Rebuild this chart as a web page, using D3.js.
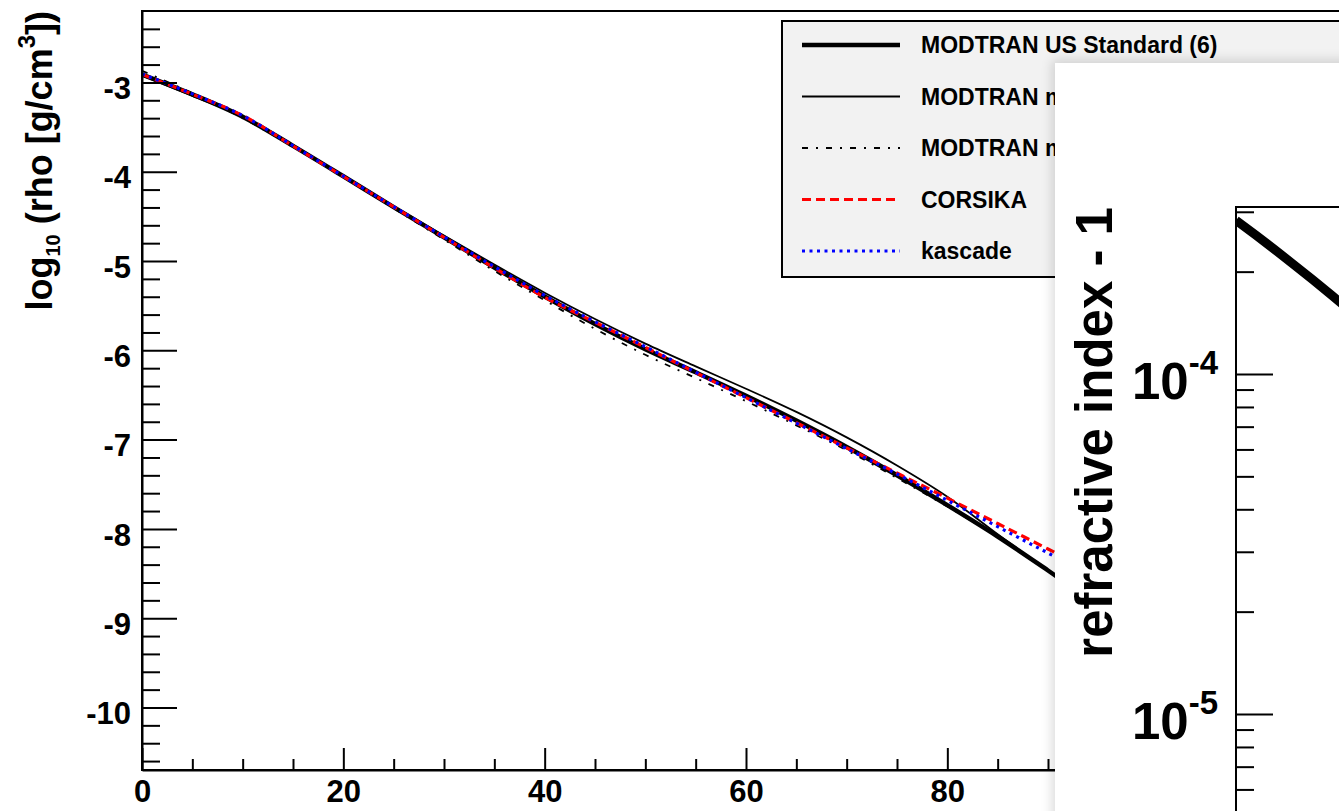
<!DOCTYPE html>
<html>
<head>
<meta charset="utf-8">
<script src="https://cdn.jsdelivr.net/npm/d3@7"></script>
<style>
  html, body { margin: 0; padding: 0; background: #fff; }
  svg { display: block; }
  text { font-family: "Liberation Sans", Arial, Helvetica, sans-serif; font-weight: bold; fill: #000; }
</style>
</head>
<body>
<svg id="chart" width="1339" height="811"></svg>
<script>
// ---- density profiles: log10(rho [g/cm^3]) versus altitude [km] ----
const altitudeKm = [0, 5, 10, 15, 20, 25, 30, 35, 40, 45, 50, 55, 60, 65, 70, 75, 80, 85, 90, 95, 100];

const modtranUsStandard = [-2.912, -3.133, -3.384, -3.710, -4.051, -4.397, -4.735, -5.072, -5.398, -5.706,
  -5.988, -6.246, -6.509, -6.787, -7.082, -7.399, -7.734, -8.085, -8.466, -8.856, -9.252];
const modtranMidLatSummer = [-2.924, -3.150, -3.383, -3.700, -4.046, -4.386, -4.715, -5.040, -5.355, -5.650,
  -5.925, -6.180, -6.430, -6.690, -6.975, -7.290, -7.640, -8.060, -8.470, -8.870, -9.270];
const modtranMidLatWinter = [-2.870, -3.120, -3.400, -3.720, -4.060, -4.410, -4.760, -5.110, -5.440, -5.760,
  -6.050, -6.310, -6.570, -6.840, -7.120, -7.430, -7.750, -8.090, -8.470, -8.860, -9.250];
const corsika = [-2.910, -3.132, -3.371, -3.712, -4.053, -4.394, -4.736, -5.077, -5.406, -5.686,
  -5.967, -6.249, -6.530, -6.811, -7.092, -7.374, -7.655, -7.940, -8.225, -8.510, -8.795];
const kascade = [-2.905, -3.128, -3.372, -3.708, -4.050, -4.392, -4.730, -5.062, -5.385, -5.680,
  -5.960, -6.245, -6.530, -6.815, -7.100, -7.385, -7.680, -7.975, -8.270, -8.565, -8.860];

const seriesLabels = ["MODTRAN US Standard (6)", "MODTRAN mid-latitude summer (2)",
  "MODTRAN mid-latitude winter (3)", "CORSIKA", "kascade"];
const seriesValues = [modtranUsStandard, modtranMidLatSummer, modtranMidLatWinter, corsika, kascade];

const xMajorTicks = [0, 20, 40, 60, 80, 100];
const yMajorTicks = [-10, -9, -8, -7, -6, -5, -4, -3];

// ---- refractive index profile (n - 1) near ground ----
const riAltitudeKm = [0, 1, 2, 3, 4, 5, 6, 7, 8];
const riValues = [2.83e-4, 2.569e-4, 2.326e-4, 2.100e-4, 1.893e-4, 1.701e-4, 1.525e-4, 1.365e-4, 1.220e-4];
const riMajorTicks = [1e-5, 1e-4];
const riMinorTicks = [6e-6, 7e-6, 8e-6, 9e-6, 2e-5, 3e-5, 4e-5, 5e-5, 6e-5, 7e-5, 8e-5, 9e-5, 2e-4, 3e-4];

// ---- drawing ----
const svg = d3.select("#chart");
const W = 1339, H = 811;

const styles = [
  { color: "#000", width: 4.5, dash: null },
  { color: "#000", width: 1.8, dash: null },
  { color: "#000", width: 1.8, dash: "6,8,2,8" },
  { color: "#ff0000", width: 3.2, dash: "9,5" },
  { color: "#0000ff", width: 3.2, dash: "3,4.5" }
];

const frame = { left: 142, top: 11, right: 1350, bottom: 770 };
const x = d3.scaleLinear().domain([0, 120]).range([frame.left, frame.right]);
const y = d3.scaleLinear().domain([-10.7, -2.2]).range([frame.bottom, frame.top]);

const defs = svg.append("defs");
defs.append("clipPath").attr("id", "plotClip").append("rect")
  .attr("x", frame.left).attr("y", frame.top)
  .attr("width", frame.right - frame.left).attr("height", frame.bottom - frame.top);

// curves
const line = d3.line().x((d, i) => x(altitudeKm[i])).y(d => y(d)).curve(d3.curveMonotoneX);
const curves = svg.append("g").attr("clip-path", "url(#plotClip)");
[2, 1, 0, 3, 4].forEach(k => {
  curves.append("path")
    .datum(seriesValues[k])
    .attr("d", line)
    .attr("fill", "none")
    .attr("stroke", styles[k].color)
    .attr("stroke-width", styles[k].width)
    .attr("stroke-dasharray", styles[k].dash)
    .attr("stroke-linejoin", "round");
});

// frame
svg.append("rect")
  .attr("x", frame.left).attr("y", frame.top)
  .attr("width", frame.right - frame.left).attr("height", frame.bottom - frame.top)
  .attr("fill", "none").attr("stroke", "#000").attr("stroke-width", 2);

// y axis (ticks point into the frame)
const yMinor = d3.range(-10.6, -2.2, 0.2).map(v => +v.toFixed(1)).filter(v => !yMajorTicks.includes(v));
const yAxisG = svg.append("g").attr("transform", `translate(${frame.left},0)`);
yAxisG.call(d3.axisLeft(y).tickValues(yMinor).tickSize(-18).tickSizeOuter(0).tickFormat(""));
yAxisG.call(g => g.selectAll(".domain").remove());
const yAxisMajor = svg.append("g").attr("transform", `translate(${frame.left},0)`)
  .call(d3.axisLeft(y).tickValues(yMajorTicks).tickSize(-35).tickSizeOuter(0).tickPadding(11)
    .tickFormat(d => String(d)));
yAxisMajor.select(".domain").attr("stroke-width", 2);
yAxisMajor.selectAll("text").attr("font-size", 31).attr("dy", "0.52em")
  .attr("font-family", null).style("font-weight", "bold");

// x axis
const xMinor = d3.range(5, 120, 5).filter(v => !xMajorTicks.includes(v));
const xAxisMinor = svg.append("g").attr("transform", `translate(0,${frame.bottom})`)
  .call(d3.axisBottom(x).tickValues(xMinor).tickSize(-11).tickSizeOuter(0).tickFormat(""));
xAxisMinor.select(".domain").remove();
const xAxisMajor = svg.append("g").attr("transform", `translate(0,${frame.bottom})`)
  .call(d3.axisBottom(x).tickValues(xMajorTicks).tickSize(-22).tickSizeOuter(0).tickPadding(10)
    .tickFormat(d => String(d)));
xAxisMajor.select(".domain").attr("stroke-width", 2);
xAxisMajor.selectAll("text").attr("font-size", 31).attr("font-family", null).style("font-weight", "bold");
svg.selectAll(".tick line").attr("stroke-width", 2).attr("stroke", "#000");
svg.selectAll(".domain").attr("stroke", "#000");

// y title: log10 (rho [g/cm^3])
const yTitle = svg.append("text")
  .attr("transform", `translate(52,${frame.top}) rotate(-90)`)
  .attr("text-anchor", "end")
  .attr("font-size", 36);
yTitle.append("tspan").text("log");
yTitle.append("tspan").attr("font-size", 20).attr("dy", 8).text("10");
yTitle.append("tspan").attr("dy", -8).text(" (rho [g/cm");
yTitle.append("tspan").attr("font-size", 24).attr("dy", -17).text("3");
yTitle.append("tspan").attr("dy", 17).text("])");

// legend
const legend = svg.append("g");
legend.append("rect")
  .attr("x", 782).attr("y", 21).attr("width", 600).attr("height", 256)
  .attr("fill", "#f2f2f2").attr("stroke", "#000").attr("stroke-width", 2);
const rowY = d3.scalePoint().domain(d3.range(seriesLabels.length)).range([45, 251]);
seriesLabels.forEach((lab, k) => {
  const yy = rowY(k);
  legend.append("line")
    .attr("x1", 802).attr("x2", 900).attr("y1", yy).attr("y2", yy)
    .attr("stroke", styles[k].color).attr("stroke-width", styles[k].width)
    .attr("stroke-dasharray", styles[k].dash);
  legend.append("text").attr("x", 921).attr("y", yy + 8).attr("font-size", 23).text(lab);
});

// ---- refractive index canvas on top ----
const filt = defs.append("filter").attr("id", "soft").attr("x", "-20%").attr("y", "-20%")
  .attr("width", "140%").attr("height", "140%");
filt.append("feGaussianBlur").attr("stdDeviation", 6);
const win = { left: 1055, top: 63 };
svg.append("rect")
  .attr("x", win.left - 3).attr("y", win.top - 3).attr("width", 400).attr("height", 800)
  .attr("fill", "#000").attr("opacity", 0.14).attr("filter", "url(#soft)");
svg.append("rect")
  .attr("x", win.left).attr("y", win.top).attr("width", W - win.left + 10).attr("height", H - win.top + 10)
  .attr("fill", "#fff");

const ri = { left: 1236, top: 207 };
const x2 = d3.scaleLinear().domain([0, 60]).range([ri.left, ri.left + 60 * 19.2]);
const y2 = d3.scaleLog().domain([1e-5, 1e-4]).range([714, 374]);

defs.append("clipPath").attr("id", "riClip").append("rect")
  .attr("x", ri.left).attr("y", ri.top).attr("width", 400).attr("height", 800);

svg.append("g").attr("clip-path", "url(#riClip)")
  .append("path")
  .datum(riValues)
  .attr("d", d3.line().x((d, i) => x2(riAltitudeKm[i])).y(d => y2(d)))
  .attr("fill", "none").attr("stroke", "#000").attr("stroke-width", 9);

// frame of the refractive index plot
svg.append("path")
  .attr("d", `M${ri.left},${H + 10}V${ri.top}H${W + 10}`)
  .attr("fill", "none").attr("stroke", "#000").attr("stroke-width", 2);

const riAxisMinor = svg.append("g").attr("transform", `translate(${ri.left},0)`)
  .call(d3.axisLeft(y2).tickValues(riMinorTicks).tickSize(-18).tickSizeOuter(0).tickFormat(""));
riAxisMinor.select(".domain").remove();
const riAxisMajor = svg.append("g").attr("transform", `translate(${ri.left},0)`)
  .call(d3.axisLeft(y2).tickValues(riMajorTicks).tickSize(-37).tickSizeOuter(0).tickFormat(""));
riAxisMajor.select(".domain").remove();
svg.selectAll(".tick line").attr("stroke-width", 2).attr("stroke", "#000");

riMajorTicks.forEach(v => {
  const t = svg.append("text")
    .attr("x", ri.left - 18).attr("y", y2(v) + 25)
    .attr("text-anchor", "end").attr("font-size", 51);
  t.append("tspan").text("10");
  t.append("tspan").attr("font-size", 33).attr("dy", -25).text(String(Math.round(Math.log10(v))));
});

svg.append("text")
  .attr("transform", `translate(1112,${ri.top}) rotate(-90)`)
  .attr("text-anchor", "end").attr("font-size", 51)
  .text("refractive index - 1");
</script>
</body>
</html>
